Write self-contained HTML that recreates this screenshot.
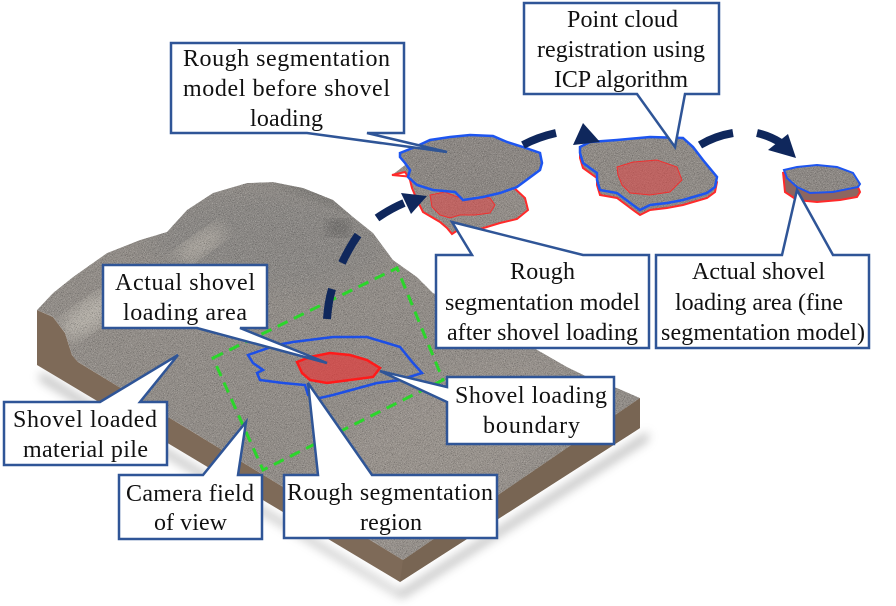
<!DOCTYPE html>
<html><head><meta charset="utf-8"><style>
html,body{margin:0;padding:0;background:#fff;}
svg{display:block;}
text{font-family:"Liberation Serif","Times New Roman",serif;font-size:24px;fill:#111;}
</style></head><body>
<svg width="896" height="606" viewBox="0 0 896 606" xmlns="http://www.w3.org/2000/svg">
<defs>
 <filter id="grain" x="0" y="0" width="1" height="1" color-interpolation-filters="sRGB">
  <feTurbulence type="fractalNoise" baseFrequency="1.1" numOctaves="2" seed="7" result="t"/>
  <feColorMatrix in="t" type="matrix" values="0 0 0 0 0.2  0 0 0 0 0.2  0 0 0 0 0.2  2 0 0 0 -1.08" result="dk"/>
  <feColorMatrix in="t" type="matrix" values="0 0 0 0 0.85  0 0 0 0 0.84  0 0 0 0 0.82  0 2 0 0 -1.1" result="lt"/>
  <feMerge result="m"><feMergeNode in="SourceGraphic"/><feMergeNode in="dk"/><feMergeNode in="lt"/></feMerge>
  <feComposite in="m" in2="SourceGraphic" operator="in"/>
 </filter>
 <filter id="blur8"><feGaussianBlur stdDeviation="8"/></filter>
 <filter id="blur14"><feGaussianBlur stdDeviation="14"/></filter>
 <filter id="shad" x="-20%" y="-20%" width="140%" height="140%"><feGaussianBlur stdDeviation="5"/></filter>
 <clipPath id="surf">
  <polygon points="37,310 53,293 73,277 107,253 140,240 167,232 187,210 213,193 247,183 273,182 303,188 333,200 353,217 373,233 393,260 417,277 433,293 450,300 480,318 520,340 567,367 600,383 617,388 640,398 403,560 78,362 72,355 65,333 53,317"/>
 </clipPath>
</defs>

<!-- slab shadow -->
<polygon points="40,372 400,592 648,432 648,440 402,598 40,380" fill="#777" opacity="0.55" filter="url(#shad)"/>
<!-- brown sides -->
<polygon points="37,310 53,317 65,333 72,355 78,362 403,560 640,398 640,428 400,582 37,365" fill="#7e6a58"/>
<polygon points="403,560 640,398 640,428 400,582" fill="#786553"/>

<!-- top surface -->
<g filter="url(#grain)">
 <g clip-path="url(#surf)">
  <rect x="0" y="150" width="700" height="450" fill="#928d88"/>
  <ellipse cx="270" cy="240" rx="120" ry="50" fill="#8a8784" filter="url(#blur14)"/>
  <ellipse cx="90" cy="315" rx="35" ry="14" fill="#b8b3ab" transform="rotate(-35 90 315)" filter="url(#blur8)"/>
  <ellipse cx="200" cy="245" rx="30" ry="10" fill="#aea9a1" transform="rotate(-35 200 245)" filter="url(#blur8)"/>
  <ellipse cx="150" cy="290" rx="40" ry="10" fill="#787572" transform="rotate(-35 150 290)" filter="url(#blur8)"/>
  <ellipse cx="338" cy="228" rx="12" ry="8" fill="#5f5d5b" filter="url(#blur8)"/>
  <ellipse cx="330" cy="190" rx="60" ry="14" fill="#7c7976" transform="rotate(20 330 190)" filter="url(#blur8)"/>
  <ellipse cx="430" cy="460" rx="160" ry="70" fill="#99938d" transform="rotate(-33 430 460)" filter="url(#blur14)"/>
 </g>
</g>

<!-- camera FOV -->
<polygon points="213,358 397,268 443,380 263,470" fill="none" stroke="#2bd62b" stroke-width="3" stroke-dasharray="11 7"/>
<!-- rough segmentation region -->
<polygon points="248,355 277,345 293,342 333,337 367,337 400,347 413,363 422,373 400,380 377,383 333,395 320,398 308,395 305,385 283,383 260,380 257,373 263,370 253,363" fill="none" stroke="#1d4fe6" stroke-width="2.5"/>
<!-- actual shovel area -->
<polygon points="297,362 310,357 330,353 350,355 367,360 380,368 373,377 350,380 327,383 310,380 302,373" fill="rgba(228,60,60,0.7)" stroke="#ff1a1a" stroke-width="2.5"/>

<!-- floating patch 1: after (red) -->
<g filter="url(#grain)">
 <polygon points="392,175 405,172 410,180 412,188 417,200 423,212 440,222 447,228 452,234 458,230 477,230 500,223 517,219 528,210 525,198 512,186 500,180 470,176 430,170 405,165" fill="#938d88"/>
</g>
<polygon points="392,175 405,172 410,180 412,188 417,200 423,212 440,222 447,228 452,234 458,230 477,230 500,223 517,219 528,210 525,198 512,186" fill="none" stroke="#ff2a2a" stroke-width="2"/>
<polygon points="430,195 445,192 460,198 475,196 490,198 495,205 490,213 475,215 460,215 450,218 440,215 432,207" fill="rgba(225,70,70,0.55)" stroke="#f03030" stroke-width="1"/>
<!-- floating patch 1: before (blue) -->
<g filter="url(#grain)">
 <polygon points="400,153 415,147 430,140 450,137 470,135 493,136 507,142 523,147 540,153 542,163 540,170 517,187 500,193 483,197 463,200 460,197 455,192 433,190 417,185 408,177 410,170 405,163 400,157" fill="#8c8783"/>
</g>
<polygon points="400,153 415,147 430,140 450,137 470,135 493,136 507,142 523,147 540,153 542,163 540,170 517,187 500,193 483,197 463,200 460,197 455,192 433,190 417,185 408,177 410,170 405,163 400,157" fill="none" stroke="#1d55f0" stroke-width="2.5"/>

<!-- floating patch 2 -->
<g filter="url(#grain)">
 <polygon points="580,152 590,147 617,145 650,142 683,143 693,152 703,165 717,182 715,192 707,198 683,205 667,208 650,210 640,215 633,210 617,198 600,195 597,185 597,178 583,168 580,158" fill="#8d8884"/>
</g>
<polygon points="580,152 590,147 617,145 650,142 683,143 693,152 703,165 717,182 715,192 707,198 683,205 667,208 650,210 640,215 633,210 617,198 600,195 597,185 597,178 583,168 580,158" fill="none" stroke="#ff2a2a" stroke-width="2"/>
<g filter="url(#grain)">
 <polygon points="580,147 590,142 617,140 650,137 683,138 693,147 703,160 717,177 715,187 707,193 683,200 667,203 650,205 640,210 633,205 617,193 600,190 597,180 597,173 583,163 580,153" fill="#908b86"/>
</g>
<polygon points="580,147 590,142 617,140 650,137 683,138 693,147 703,160 717,177 715,187 707,193 683,200 667,203 650,205 640,210 633,205 617,193 600,190 597,180 597,173 583,163 580,153" fill="none" stroke="#1d55f0" stroke-width="2.5"/>
<polygon points="617,167 633,162 657,160 677,167 682,180 670,192 650,195 630,193 622,185 618,175" fill="rgba(225,70,70,0.55)" stroke="#f03030" stroke-width="1"/>

<!-- floating patch 3 -->
<polygon points="783,172 787,178 797,187 810,193 833,192 858,187 860,192 857,197 840,200 817,202 797,200 785,192" fill="#8c6660" stroke="#ff2a2a" stroke-width="2"/>
<g filter="url(#grain)">
 <polygon points="784,170 797,167 817,165 837,167 853,173 860,184 858,187 833,192 810,193 797,187 787,178" fill="#8d8884"/>
</g>
<polygon points="784,170 797,167 817,165 837,167 853,173 860,184 858,187 833,192 810,193 797,187 787,178" fill="none" stroke="#1d55f0" stroke-width="2"/>

<!-- navy dashed arrows -->
<g fill="none" stroke="#0f275c" stroke-width="8" stroke-linecap="butt">
 <path d="M327,319 Q328,303 332,289"/>
 <path d="M342,263 Q349,248 358,235"/>
 <path d="M377,218 Q390,209 404,203"/>
 <path d="M523,145 Q538,137 556,133"/>
 <path d="M700,145 Q715,136 733,133"/>
 <path d="M757,133 Q770,136 781,143"/>
</g>
<g fill="#0f275c">
 <polygon points="401,193 427,196 411,214"/>
 <polygon points="573,145 583,123 600,142"/>
 <polygon points="768,150 788,134 796,158"/>
</g>

<!-- callouts -->
<g fill="#fff" stroke="#2f5597" stroke-width="2.5" stroke-linejoin="miter">
 <path d="M171,43 H404 V133 H367 L447,152 L307,133 H171 Z"/>
 <path d="M524,3 H719 V94 H685 L675,147 L637,94 H524 Z"/>
 <path d="M436,255 H472 L452,222 L583,255 H649 V348 H436 Z"/>
 <path d="M656,255 H782 L797,190 L833,255 H869 V348 H656 Z"/>
 <path d="M103,265 H267 V328 H240 L327,363 L197,328 H103 Z"/>
 <path d="M4,402 H100 L178,355 L140,402 H167 V465 H4 Z"/>
 <path d="M119,475 H203 L246,422 L238,475 H262 V539 H119 Z"/>
 <path d="M284,475 H318 L308,383 L372,475 H497 V538 H284 Z"/>
 <path d="M447,377 H614 V444 H447 V402 L380,371 L447,387 Z"/>
</g>

<g text-anchor="middle">
 <text x="286.5" y="66" textLength="207" lengthAdjust="spacing">Rough segmentation</text>
 <text x="286.5" y="96" textLength="207" lengthAdjust="spacing">model before shovel</text>
 <text x="286.5" y="126" textLength="73" lengthAdjust="spacing">loading</text>

 <text x="622.5" y="27" textLength="111" lengthAdjust="spacing">Point cloud</text>
 <text x="621" y="57" textLength="168" lengthAdjust="spacing">registration  using</text>
 <text x="621" y="87" textLength="134" lengthAdjust="spacing">ICP algorithm</text>

 <text x="542.5" y="279" textLength="65" lengthAdjust="spacing">Rough</text>
 <text x="542.5" y="310" textLength="195" lengthAdjust="spacing">segmentation  model</text>
 <text x="542.5" y="340" textLength="191" lengthAdjust="spacing">after shovel loading</text>

 <text x="758.5" y="279" textLength="133" lengthAdjust="spacing">Actual  shovel</text>
 <text x="759" y="310" textLength="168" lengthAdjust="spacing">loading  area (fine</text>
 <text x="763" y="340" textLength="204" lengthAdjust="spacing">segmentation model)</text>

 <text x="185" y="290" textLength="140" lengthAdjust="spacing">Actual  shovel</text>
 <text x="185" y="320" textLength="124" lengthAdjust="spacing">loading  area</text>

 <text x="85" y="427" textLength="144" lengthAdjust="spacing">Shovel loaded</text>
 <text x="85.5" y="457" textLength="125" lengthAdjust="spacing">material  pile</text>

 <text x="190" y="501" textLength="128" lengthAdjust="spacing">Camera  field</text>
 <text x="190.5" y="530" textLength="73" lengthAdjust="spacing">of view</text>

 <text x="390" y="500" textLength="206" lengthAdjust="spacing">Rough segmentation</text>
 <text x="391" y="530" textLength="62" lengthAdjust="spacing">region</text>

 <text x="531" y="403" textLength="152" lengthAdjust="spacing">Shovel loading</text>
 <text x="531.5" y="433" textLength="97" lengthAdjust="spacing">boundary</text>
</g>
</svg>
</body></html>
